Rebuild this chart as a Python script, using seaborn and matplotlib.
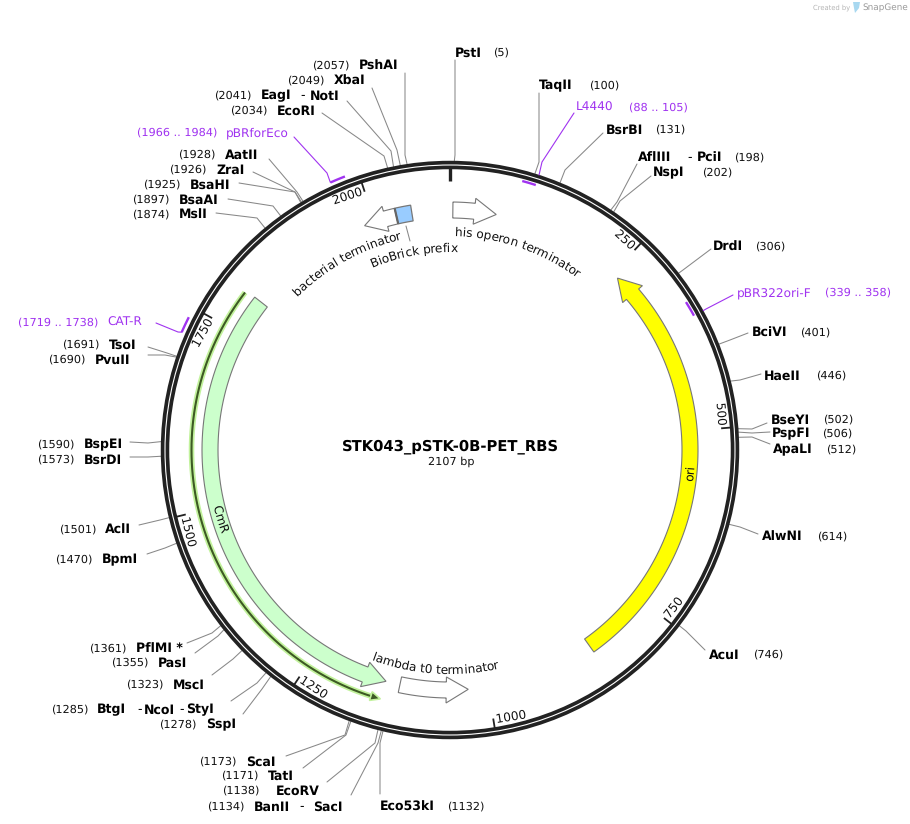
import numpy as np
import pandas as pd
import matplotlib
matplotlib.use('Agg')
import matplotlib.pyplot as plt
import matplotlib.patheffects as pe
from matplotlib.patches import Circle, Polygon
import seaborn as sns

# Plasmid
plasmid_name = 'STK043_pSTK-0B-PET_RBS'
plasmid_len = 2107

# Sites de restriction
site_names = ['PstI', 'TaqII', 'BsrBI', 'AflIII - PciI', 'NspI', 'DrdI', 'BciVI', 'HaeII',
              'BseYI', 'PspFI', 'ApaLI', 'AlwNI', 'AcuI', 'Eco53kI', 'BanII - SacI', 'EcoRV',
              'TatI', 'ScaI', 'SspI', 'BtgI - NcoI - StyI', 'MscI', 'PasI', 'PflMI *', 'BpmI',
              'AclI', 'BsrDI', 'BspEI', 'PvuII', 'TsoI', 'MslI', 'BsaAI', 'BsaHI',
              'ZraI', 'AatII', 'EcoRI', 'EagI - NotI', 'XbaI', 'PshAI']
site_pos = [5, 100, 131, 198, 202, 306, 401, 446,
            502, 506, 512, 614, 746, 1132, 1134, 1138,
            1171, 1173, 1278, 1285, 1323, 1355, 1361, 1470,
            1501, 1573, 1590, 1690, 1691, 1874, 1897, 1925,
            1926, 1928, 2034, 2041, 2049, 2057]

# Amorces
primer_start = [88, 339, 1719, 1966]
primer_end = [105, 358, 1738, 1984]

# Features
feature_tail = [4, 846, 1124, 1803, 2031.5]
feature_tip = [65, 259, 1028, 1144, 1985]
feature_colors = ['white', '#ffff00', 'white', '#ccffcc', 'white']
biobrick_span = [2031.5, 2053.5]
orf_span = [1800, 1145]
tick_values = [250, 500, 750, 1000, 1250, 1500, 1750, 2000]

# Mise en page des etiquettes (pixels)
label_x = [455, 539, 606, 638, 653, 713, 752, 764, 771, 772, 773, 762, 709, 380, 254, 276,
           268, 246, 206, 97, 173, 158, 136, 102, 105, 84, 84, 95, 109, 179, 179, 190,
           216, 225, 277, 261, 334, 359]
label_y = [52, 85, 129, 157, 172, 246, 332, 375, 419, 433, 449, 536, 654, 806, 806, 790,
           775, 761, 724, 709, 684, 662, 648, 559, 529, 459, 444, 359, 344, 214, 199, 184,
           169, 154, 110, 95, 80, 65]
number_x = [494, 590, 656, 735, 703, 756, 801, 817, 824, 823, 827, 818, 754, 448, 208, 223,
            222, 200, 160, 52, 127, 112, 90, 56, 60, 38, 38, 49, 63, 133, 133, 144,
            170, 179, 231, 215, 288, 313]
leader_x = [455, 539, 603, 637, 651, 711, 748, 761, 767, 770, 770, 758, 705, 380, 351, 327,
            303, 286, 243, 231, 212, 195, 187, 147, 139, 130, 130, 148, 148, 216, 228, 239,
            253, 269, 322, 347, 372, 405]
leader_y = [60, 93, 133, 164, 176, 249, 333, 374, 423, 432, 444, 534, 650, 794, 795, 782,
            768, 756, 714, 701, 675, 653, 643, 554, 525, 457, 442, 355, 347, 213, 199, 183,
            172, 159, 113, 101, 88, 73]
knot_x = [455, 539, 565, 617, 620, 683, 730, 740, 752, 752, 752, 740, 686, 380, 378, 375,
          346, 345, 262, 257, 233, 218, 212, 165, 160, 148, 148, 165, 167, 257, 273, 295,
          295, 297, 384, 391, 397, 405]
knot_y = [155, 162, 170, 202, 201, 270, 340, 380, 429, 433, 437, 527, 631, 743, 743, 743,
          735, 735, 689, 683, 659, 636, 633, 548, 520, 457, 443, 355, 353, 218, 206, 192,
          192, 192, 156, 151, 150, 155]
multi_x = {'AflIII - PciI': [638, 687, 697], 'BanII - SacI': [254, 299, 313],
           'BtgI - NcoI - StyI': [97, 137, 144, 179, 186], 'EagI - NotI': [261, 300, 310]}

CX, CY = 450, 450
DARK = '#222222'
PURPLE = '#a033f0'
GRAY = '#888888'
DY = 0.8  # decalage vertical des etiquettes

sns.set_theme(style='white')
plt.rcParams['font.family'] = ['DejaVu Sans']
plt.rcParams['text.hinting'] = 'no_hinting'

fig = plt.figure(figsize=(9.1, 8.24), dpi=100, facecolor='white')
ax = fig.add_axes([0, 0, 1, 1])
ax.set_xlim(0, 910)
ax.set_ylim(824, 0)


def bp2ang(bp):
    return bp / plasmid_len * 360


def pt(ang, r):
    a = np.radians(ang)
    return CX + r * np.sin(a), CY - r * np.cos(a)


def arc(a0, a1, r, n=80):
    xs, ys = pt(np.linspace(a0, a1, n), r)
    return np.column_stack([xs, ys])


renderer = fig.canvas.get_renderer()
smooth = [pe.Normal()]  # texte dessine en chemin, sans arrondi au pixel


def text_width(s, size, weight='normal'):
    t = ax.text(0, 0, s + '.', fontsize=size, fontweight=weight)
    w = t.get_window_extent(renderer).width
    t.set_text('.')
    w -= t.get_window_extent(renderer).width
    t.remove()
    return w


def curved_text(s, start, r, clockwise=True, size=8.7):
    # une lettre a la fois le long de l'arc
    sign = 1 if clockwise else -1
    for i, ch in enumerate(s):
        if ch == ' ':
            continue
        x0 = text_width(s[:i], size) if i else 0
        s_mid = x0 + text_width(ch, size) / 2
        ang = start + sign * np.degrees(s_mid / r)
        x, y = pt(ang, r)
        rot = -ang if clockwise else 180 - ang
        ax.text(x, y, ch, fontsize=size, rotation=rot, rotation_mode='anchor',
                ha='center', va='baseline', color='#111111', path_effects=smooth)


def feature_arrow(tail, tip, color, r=240, half=8, head=13, head_px=22):
    a0, a1 = bp2ang(tail), bp2ang(tip)
    sign = 1 if a1 > a0 else -1
    base = a1 - sign * np.degrees(head_px / r)
    pts = [arc(a0, base, r + half), np.array([pt(base, r + head)]), np.array([pt(a1, r)]),
           np.array([pt(base, r - head)]), arc(base, a0, r - half)]
    ax.add_patch(Polygon(np.vstack(pts), closed=True, facecolor=color, edgecolor='#777777', lw=0.8, zorder=3))


# Anneau double
ax.add_patch(Circle((CX, CY), 285, fill=False, ec=DARK, lw=6.1, zorder=4))
ax.add_patch(Circle((CX, CY), 285, fill=False, ec='white', lw=0.8, zorder=5))

# Lignes de rappel des sites
rows = []
for name, pos, kx, ky, lx, ly in zip(site_names, site_pos, knot_x, knot_y, leader_x, leader_y):
    for (x, y) in [pt(bp2ang(pos), 289), (kx, ky), (lx, ly)]:
        rows.append({'site': name, 'x': x, 'y': y})
leaders = pd.DataFrame(rows)
sns.lineplot(data=leaders, x='x', y='y', units='site', estimator=None, sort=False,
             color=GRAY, lw=0.75, legend=False, ax=ax, zorder=2)

# Etiquettes des sites
for name, pos, lx, ly, nx in zip(site_names, site_pos, label_x, label_y, number_x):
    if name in multi_x:
        for piece, px in zip(name.split(' '), multi_x[name]):
            ax.text(px, ly + DY, piece, fontsize=9, fontweight='bold' if piece != '-' else 'normal',
                    va='center', ha='left', color='black')
    else:
        ax.text(lx, ly + DY, name, fontsize=9, fontweight='bold', va='center', ha='left', color='black')
    ax.text(nx - 0.7, ly + DY, f'({pos})', fontsize=8.1, va='center', ha='left', color='#111111')

# Graduations
ax.plot([CX, CX], [167, 181], color=DARK, lw=2.4, solid_capstyle='butt', zorder=4)
for tick in tick_values:
    ang = bp2ang(tick)
    x0, y0 = pt(ang, 272)
    x1, y1 = pt(ang, 283)
    ax.plot([x0, x1], [y0, y1], color=DARK, lw=1.3, solid_capstyle='butt', zorder=4)
    if 90 < ang < 270:
        x, y = pt(ang - 0.5, 277)
        ax.text(x, y, str(tick), fontsize=8.7, rotation=180 - ang, rotation_mode='anchor',
                ha='left', va='baseline', color='#111111', path_effects=smooth)
    else:
        x, y = pt(ang - 0.5, 269.5)
        ax.text(x, y, str(tick), fontsize=8.7, rotation=-ang, rotation_mode='anchor',
                ha='right', va='baseline', color='#111111', path_effects=smooth)

# Amorces
primer_r = [278.5, 278.5, 293, 293]
primer_knots = [[(574, 113), (542, 162)], [(733, 295), (706, 309)], [(156, 323), (178, 332)], [(294, 137), (327, 173)]]
for start, end, r, lead in zip(primer_start, primer_end, primer_r, primer_knots):
    a0, a1 = bp2ang(start), bp2ang(end)
    bar = arc(a0, a1, r, n=20)
    ax.plot(bar[:, 0], bar[:, 1], color=PURPLE, lw=1.7, solid_capstyle='butt', zorder=6)
    end_pt = pt(a0, r) if r > 285 else pt(a1, 289)
    ax.plot([lead[0][0], lead[1][0], end_pt[0]], [lead[0][1], lead[1][1], end_pt[1]],
            color=PURPLE, lw=0.8, zorder=6)
ax.text(576, 107 + DY, 'L4440', fontsize=8.7, color=PURPLE, va='center')
ax.text(629, 107 + DY, '(88 .. 105)', fontsize=8.1, color=PURPLE, va='center')
ax.text(737, 292 + DY, 'pBR322ori-F', fontsize=8.7, color=PURPLE, va='center')
ax.text(825, 292 + DY, '(339 .. 358)', fontsize=8.1, color=PURPLE, va='center')
ax.text(18, 322 + DY, '(1719 .. 1738)', fontsize=8.1, color=PURPLE, va='center')
ax.text(107, 322 + DY, 'CAT-R', fontsize=8.7, color=PURPLE, va='center')
ax.text(137, 132 + DY, '(1966 .. 1984)', fontsize=8.1, color=PURPLE, va='center')
ax.text(226, 132 + DY, 'pBRforEco', fontsize=8.7, color=PURPLE, va='center')

# ORF vert
orf = arc(bp2ang(orf_span[0]), bp2ang(orf_span[1]) + 2, 258.5)
ax.plot(orf[:, 0], orf[:, 1], color='#c2f29c', lw=4.0, solid_capstyle='butt', zorder=2)
ax.plot(orf[:, 0], orf[:, 1], color='#3d5a24', lw=1.5, solid_capstyle='butt', zorder=3)
a_tip = bp2ang(orf_span[1])
ax.add_patch(Polygon([pt(a_tip, 258.5), pt(a_tip + 2.2, 263), pt(a_tip + 2.2, 254)],
                     closed=True, fc='#3d5a24', ec='#c2f29c', lw=1.2, zorder=3))

# Features
for tail, tip, color in zip(feature_tail, feature_tip, feature_colors):
    feature_arrow(tail, tip, color)

box = np.vstack([arc(bp2ang(biobrick_span[0]), bp2ang(biobrick_span[1]), 248, n=10),
                 arc(bp2ang(biobrick_span[1]), bp2ang(biobrick_span[0]), 232, n=10)])
ax.add_patch(Polygon(box, closed=True, fc='#99ccff', ec='#777777', lw=0.9, zorder=4))
edge = np.array([pt(bp2ang(biobrick_span[0]), 248), pt(bp2ang(biobrick_span[0]), 232)])
ax.plot(edge[:, 0], edge[:, 1], color='#666666', lw=1.6, solid_capstyle='butt', zorder=5)
ax.plot([406, 410], [226, 241], color=GRAY, lw=0.75, zorder=2)

curved_text('his operon terminator', 1.3, 214)
curved_text('bacterial terminator', 315, 216)
curved_text('BioBrick prefix', 336.9, 198)
curved_text('lambda t0 terminator', 200.4, 224, clockwise=False)
curved_text('CmR', 256.5, 243, clockwise=False)
curved_text('ori', 97.5, 245, clockwise=False)

# Centre
ax.text(450.5, 446.5, plasmid_name, fontsize=10.6, fontweight='bold', ha='center', va='center', color='black')
ax.text(451, 461.5, f'{plasmid_len} bp', fontsize=8.1, ha='center', va='center', color='#111111')

# Logo
ax.text(813, 7.5, 'Created by', fontsize=4.9, color='#b5b5b5', va='center')
ax.add_patch(Polygon([(853, 2), (860, 2), (859, 8), (855, 13), (854, 8)], closed=True, fc='#a8d8f0', ec='none'))
ax.text(862, 7.5, 'SnapGene', fontsize=6.4, color='#9a9a9a', va='center')

ax.set_xlim(0, 910)
ax.set_ylim(824, 0)
ax.set_axis_off()

fig.savefig('out.png', dpi=100)
